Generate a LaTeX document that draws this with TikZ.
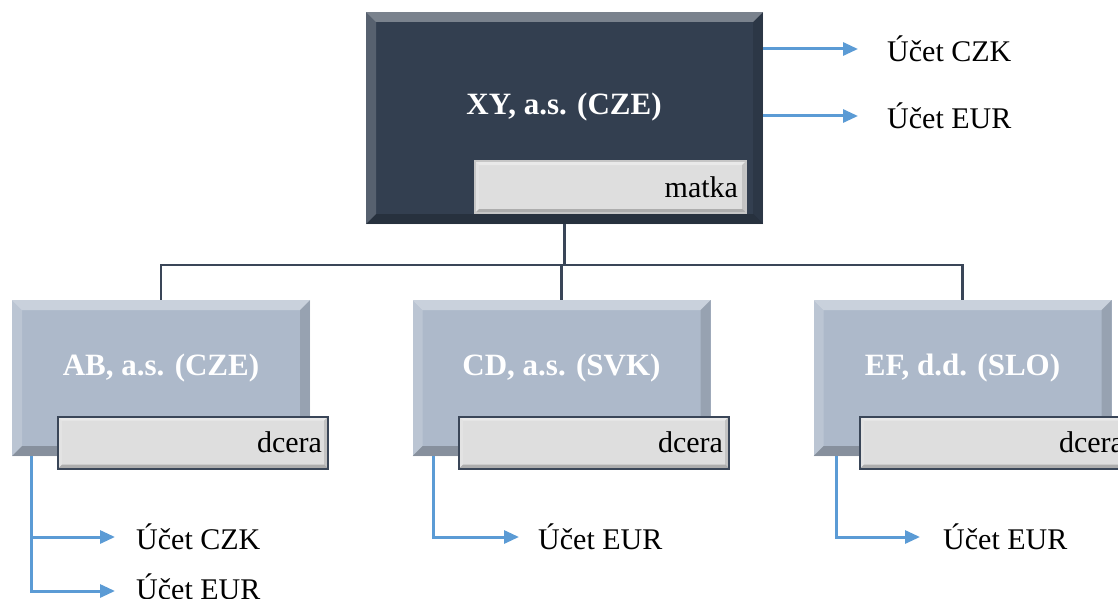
\documentclass[tikz,border=0pt]{standalone}
\usepackage{fontspec}
\setmainfont{Liberation Serif}
\usetikzlibrary{arrows.meta,calc}
\definecolor{darkbox}{HTML}{333F50}
\definecolor{lightbox}{HTML}{ADB9CA}
\definecolor{tagfill}{HTML}{DEDEDE}
\definecolor{accblue}{HTML}{5B9BD5}
\definecolor{linecol}{HTML}{3A4658}
\tikzset{
  bevel/.style={path picture={
    \fill[white,opacity=0.35] (path picture bounding box.north west) -- (path picture bounding box.north east)
      -- ([xshift=-#1,yshift=-#1]path picture bounding box.north east) -- ([xshift=#1,yshift=-#1]path picture bounding box.north west) -- cycle;
    \fill[white,opacity=0.18] (path picture bounding box.north west) -- ([xshift=#1,yshift=-#1]path picture bounding box.north west)
      -- ([xshift=#1,yshift=#1]path picture bounding box.south west) -- (path picture bounding box.south west) -- cycle;
    \fill[black,opacity=0.22] (path picture bounding box.south west) -- ([xshift=#1,yshift=#1]path picture bounding box.south west)
      -- ([xshift=-#1,yshift=#1]path picture bounding box.south east) -- (path picture bounding box.south east) -- cycle;
    \fill[black,opacity=0.12] (path picture bounding box.north east) -- ([xshift=-#1,yshift=-#1]path picture bounding box.north east)
      -- ([xshift=-#1,yshift=#1]path picture bounding box.south east) -- (path picture bounding box.south east) -- cycle;
  }},
  every node/.style={font=\fontsize{30}{36}\selectfont},
  parentbox/.style={fill=darkbox, minimum width=397pt, minimum height=212pt, inner sep=0pt, bevel=10pt},
  childbox/.style={fill=lightbox, minimum width=298pt, minimum height=156pt, inner sep=0pt, bevel=10pt},
  nametext/.style={text=white, font=\fontsize{31}{36}\selectfont\bfseries, inner sep=0pt},
  tagbox/.style={fill=tagfill, draw=linecol, line width=2pt, minimum width=270pt, minimum height=52pt,
    inner xsep=6pt, inner ysep=0pt, text width=258pt, align=right, bevel=4pt},
  mtagbox/.style={tagbox, draw=gray!45, line width=1.2pt, inner xsep=8pt, text width=255pt},
  acctext/.style={anchor=west, inner sep=2pt},
  accarrow/.style={draw=accblue, line width=3pt, -{Triangle[length=15pt,width=13pt]}},
  tree/.style={draw=linecol, line width=2.5pt},
}
\begin{document}
\begin{tikzpicture}[x=1pt,y=-1pt]
\useasboundingbox (0,0) rectangle (1118,599);
% boxes
\node[parentbox] (xy) at (564.5,118) {};
\node[nametext] (xyt) at (564,107) {XY, a.s. (CZE)};
\node[mtagbox] (matka) at (610.5,187) {matka};

\node[childbox] (ab) at (161,378) {};
\node[nametext] (abt) at (161,368) {AB, a.s. (CZE)};
\node[tagbox] (abtag) at (193,442.5) {dcera};

\node[childbox] (cd) at (561.5,378) {};
\node[nametext] (cdt) at (561.5,368) {CD, a.s. (SVK)};
\node[tagbox] (cdtag) at (594,442.5) {dcera};

\node[childbox] (ef) at (962.5,378) {};
\node[nametext] (eft) at (962.5,368) {EF, d.d. (SLO)};
\node[tagbox] (eftag) at (995,442.5) {dcera};

% tree connectors
\coordinate (bus) at (564.5,265);
\draw[tree] (xy.south) -- (bus);
\draw[tree] (bus) -| (ab.north);
\draw[tree] (bus) -| (cd.north);
\draw[tree] (bus) -| (ef.north);

% account labels
\node[acctext] (xyczk) at (885,49) {Účet CZK};
\node[acctext] (xyeur) at (885,116) {Účet EUR};
\node[acctext] (abczk) at (134,537) {Účet CZK};
\node[acctext] (abeur) at (134,587) {Účet EUR};
\node[acctext] (cdeur) at (536,537) {Účet EUR};
\node[acctext] (efeur) at (941,537) {Účet EUR};

% account arrows
\draw[accarrow] (xy.east |- xyczk.west) -- ([xshift=-27pt]xyczk.west);
\draw[accarrow] (xy.east |- xyeur.west) -- ([xshift=-27pt]xyeur.west);
\draw[accarrow] ([xshift=20pt]ab.south west) |- ([xshift=-19pt]abczk.west);
\draw[accarrow] ([xshift=20pt]ab.south west) |- ([xshift=-19pt,yshift=-4pt]abeur.west);
\draw[accarrow] ([xshift=21pt]cd.south west) |- ([xshift=-17pt]cdeur.west);
\draw[accarrow] ([xshift=23pt]ef.south west) |- ([xshift=-21pt]efeur.west);
\end{tikzpicture}
\end{document}
